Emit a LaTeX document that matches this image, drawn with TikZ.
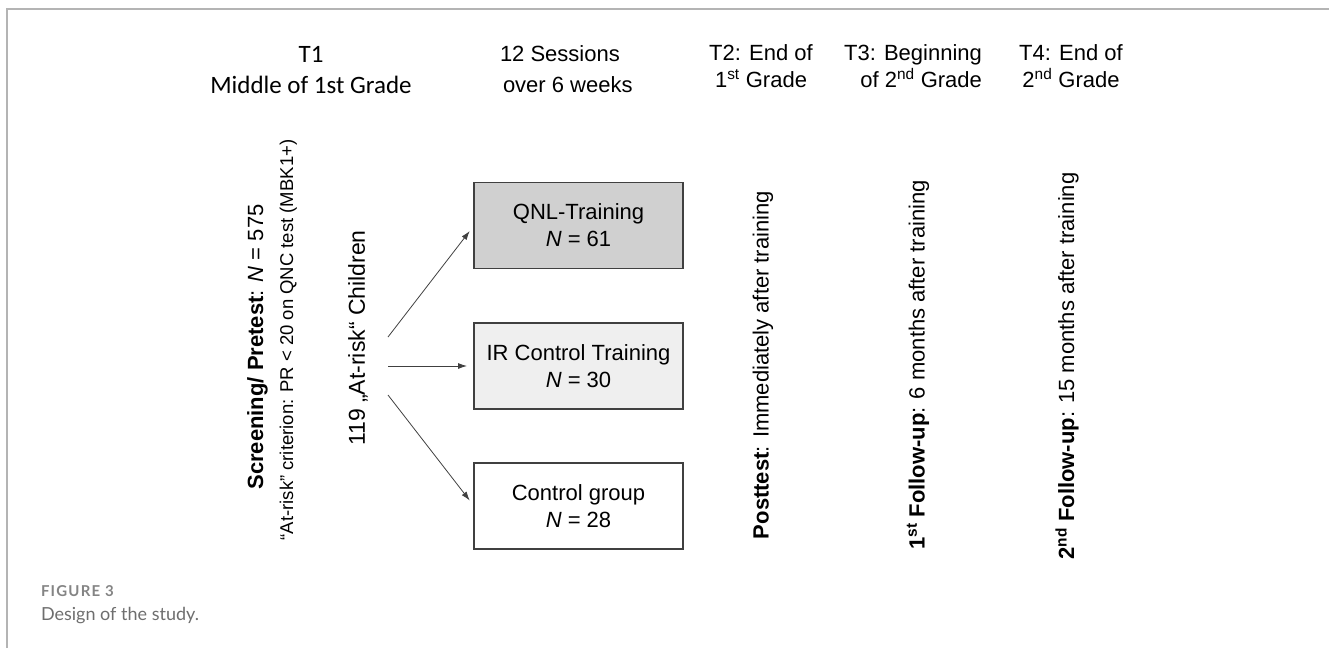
\documentclass[tikz,border=0pt]{standalone}
\usepackage{fontspec}
\setmainfont{Liberation Sans}
\newfontfamily\calibrifont{Carlito}
\newfontfamily\captionfont{Lato}
\usetikzlibrary{arrows.meta}
\definecolor{framegray}{HTML}{B4B4B4}
\definecolor{linegray}{HTML}{404040}
\definecolor{qnlfill}{HTML}{D0D0D0}
\definecolor{irfill}{HTML}{EFEFEF}
\definecolor{capgray}{HTML}{6E6E6E}
\newcommand{\bigtxt}{\fontsize{22}{27}\selectfont}
\newcommand{\midtxt}{\fontsize{18.5}{22}\selectfont}
\begin{document}
\begin{tikzpicture}[x=1pt, y=-1pt,
    every node/.style={inner sep=0pt, outer sep=0pt},
    head/.style={align=center, font=\bigtxt},
    group/.style={draw=linegray, line width=1.3pt, minimum width=209pt, minimum height=86pt, align=center, font=\bigtxt},
    vtext/.style={rotate=90, align=center, font=\bigtxt},
    arr/.style={draw=linegray, line width=0.8pt, -{Latex[length=9pt, width=6pt]}, shorten >=7pt}]
    \useasboundingbox (0,0) rectangle (1329,648);
    % frame
    \draw[framegray, line width=1.6pt] (7,648) -- (7,9) -- (1329,9);

    % time points
    \node[head, font=\calibrifont\fontsize{25}{31}\selectfont] (t1) at (311,70.5) {T1\\Middle of 1st Grade};
    \node[head, align=left, anchor=west, font=\fontsize{22}{31}\selectfont] (sessions) at (500,69.5) {12 Sessions\\\hspace*{3pt}over 6 weeks};
    \node[head] (t2) at (761,66) {T2: End of\\1\textsuperscript{st} Grade};
    \node[head, align=right] (t3) at (913,66) {T3: Beginning\\of 2\textsuperscript{nd} Grade};
    \node[head] (t4) at (1071,66) {T4: End of\\2\textsuperscript{nd} Grade};

    % screening
    \node[vtext] (screen) at (272,340) {\textbf{Screening/ Pretest}: \textit{N} = 575\hspace*{14pt}\\[3pt]
        {\midtxt ``At-risk'' criterion: PR < 20 on QNC test (MBK1+)}};
    \node[vtext, font=\fontsize{23}{28}\selectfont] (risk) at (358,338) {119 „At-risk“ Children};

    % groups
    \node[group, fill=qnlfill] (qnl) at (578.5,225.5) {QNL-Training\\\textit{N} = 61};
    \node[group, fill=irfill] (ir) at (578.5,366) {IR Control Training\\\textit{N} = 30};
    \node[group, fill=white] (ctrl) at (578.5,506) {Control group\\\textit{N} = 28};

    \coordinate (s1) at (388,337);
    \coordinate (s2) at (388,366);
    \coordinate (s3) at (388,395);
    \draw[arr] (s1) -- (qnl.west);
    \draw[arr] (s2) -- (ir.west);
    \draw[arr] (s3) -- (ctrl.west);

    % tests
    \node[vtext] (post) at (763,365) {\textbf{Posttest}: Immediately after training};
    \node[vtext] (fu1) at (918,365) {\textbf{1\textsuperscript{st} Follow-up}: 6 months after training};
    \node[vtext] (fu2) at (1067,366) {\textbf{2\textsuperscript{nd} Follow-up}: 15 months after training};

    % caption
    \node[anchor=base west, text=capgray!85, font=\captionfont\fontsize{15}{17}\selectfont\bfseries\addfontfeatures{LetterSpace=8}] (fig) at (41,596) {FIGURE 3};
    \node[anchor=base west, text=capgray, font=\captionfont\fontsize{18}{22}\selectfont] (cap) at (41,620) {Design of the study.};
\end{tikzpicture}
\end{document}
